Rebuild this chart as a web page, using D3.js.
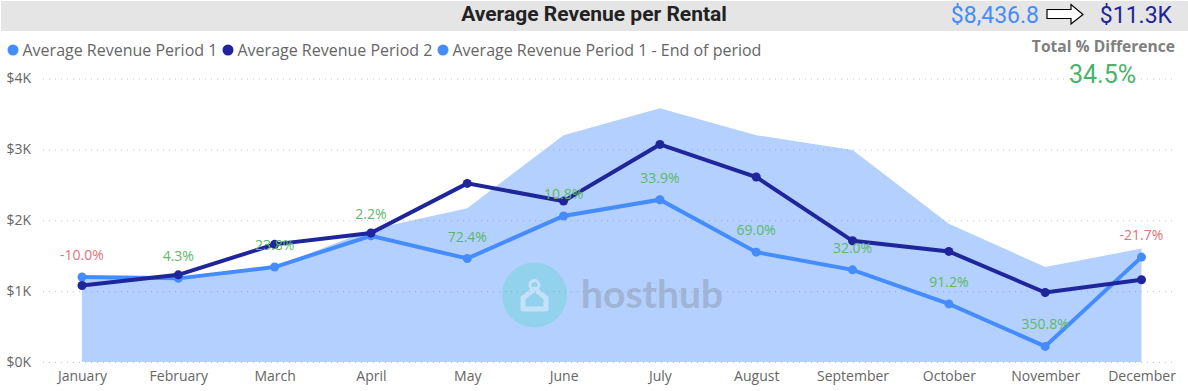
<!DOCTYPE html>
<html>
<head>
<meta charset="utf-8">
<script src="https://cdn.jsdelivr.net/npm/d3@7"></script>
<style>
  html, body { margin: 0; padding: 0; background: #fff; }
  svg { display: block; }
  text { font-family: "Open Sans", "Noto Sans", sans-serif; }
  .din { font-family: Roboto, sans-serif; }
</style>
</head>
<body>
<svg id="chart" width="1188" height="391"></svg>
<script>
const months = ['January', 'February', 'March', 'April', 'May', 'June', 'July', 'August', 'September', 'October', 'November', 'December']
const period1 = [1.2, 1.18, 1.34, 1.78, 1.46, 2.06, 2.29, 1.55, 1.3, 0.82, 0.22, 1.48]
const period2 = [1.08, 1.23, 1.66, 1.82, 2.52, 2.27, 3.07, 2.61, 1.71, 1.56, 0.98, 1.16]
const endOfPeriod = [1.2, 1.18, 1.34, 1.87, 2.17, 3.2, 3.58, 3.2, 2.99, 1.95, 1.34, 1.6]
const diffLabels = ['-10.0%', '4.3%', '23.8%', '2.2%', '72.4%', '10.8%', '33.9%', '69.0%', '32.0%', '91.2%', '350.8%', '-21.7%']
const yTicks = [0, 1, 2, 3, 4]
const legendNames = ['Average Revenue Period 1', 'Average Revenue Period 2', 'Average Revenue Period 1 - End of period']
const legendColors = ['#448CFF', '#1F259A', '#448CFF']
const legendX = [13, 228, 443]

const svg = d3.select('#chart')
const scaleX = d3.scalePoint().domain(months).range([82, 1141.5])
const scaleY = d3.scaleLinear().domain([0, 4]).range([362, 78.5])

// header band
svg.append('rect').attr('x', 1).attr('y', 1).attr('width', 1187).attr('height', 30).attr('fill', '#e5e5e5')
svg.append('text').attr('class', 'din').attr('x', 594).attr('y', 21).attr('text-anchor', 'middle')
    .attr('font-size', 21).attr('font-weight', 700).attr('fill', '#222').text('Average Revenue per Rental')
svg.append('text').attr('class', 'din').attr('x', 1039).attr('y', 23).attr('text-anchor', 'end')
    .attr('font-size', 23).attr('fill', '#448CFF').text('$8,436.8')
svg.append('text').attr('class', 'din').attr('x', 1172).attr('y', 23).attr('text-anchor', 'end')
    .attr('font-size', 23).attr('fill', '#1F259A').text('$11.3K')
svg.append('path').attr('d', 'M1047 9.5H1071V4.5L1083 14.5L1071 24V18.5H1047Z')
    .attr('fill', '#fff').attr('stroke', '#000').attr('stroke-width', 1.2)

// legend
legendNames.forEach((name, i) => {
    svg.append('circle').attr('cx', legendX[i]).attr('cy', 50).attr('r', 5.5).attr('fill', legendColors[i])
    svg.append('text').attr('x', legendX[i] + 9.5).attr('y', 56).attr('font-size', 16).attr('fill', '#666').text(name)
})

// area goes under the watermark and gridlines
svg.append('path')
    .datum(endOfPeriod.map((v, i) => [months[i], v]))
    .attr('fill', '#B3D0FF')
    .attr('d', d3.area().x(d => scaleX(d[0])).y0(scaleY(0)).y1(d => scaleY(d[1])))

// watermark
svg.append('circle').attr('cx', 534.5).attr('cy', 295).attr('r', 32.5).attr('fill', '#92D2EC')
svg.append('circle').attr('cx', 534.5).attr('cy', 285).attr('r', 4.5).attr('fill', 'none').attr('stroke', '#C5E0F9').attr('stroke-width', 3)
svg.append('path').attr('d', 'M523 309V298L534.5 289L546 298V309Z')
    .attr('fill', 'none').attr('stroke', '#C5E0F9').attr('stroke-width', 5).attr('stroke-linejoin', 'round')
svg.append('text').attr('x', 581).attr('y', 308).attr('font-size', 39).attr('font-weight', 700)
    .style('font-family', 'Lato, sans-serif').attr('fill', '#A0B4D6').text('hosthub')

// y axis
const axisY = d3.axisLeft(scaleY).tickValues(yTicks).tickFormat(d => `$${d}K`).tickSize(-1134).tickPadding(12)
const gy = svg.append('g').attr('transform', 'translate(43,0)').call(axisY)
gy.select('.domain').remove()
gy.selectAll('line').attr('stroke', '#888').attr('stroke-opacity', 0.5).attr('stroke-dasharray', '1 5')
gy.selectAll('text').attr('font-size', 14).attr('fill', '#666')

// x axis
const axisX = d3.axisBottom(scaleX).tickSize(0).tickPadding(0)
const gx = svg.append('g').attr('transform', 'translate(0,371)').call(axisX)
gx.select('.domain').remove()
gx.selectAll('text').attr('font-size', 14).attr('fill', '#666')

// lines and points
const line = d3.line().x(d => scaleX(d[0])).y(d => scaleY(d[1]))
const seriesList = [[period1, '#448CFF'], [period2, '#1F259A']]
seriesList.forEach(([values, color]) => {
    const rows = values.map((v, i) => [months[i], v])
    svg.append('path').datum(rows).attr('fill', 'none').attr('stroke', color).attr('stroke-width', 4).attr('d', line)
    svg.append('g').selectAll('circle').data(rows).join('circle')
        .attr('r', 4.5).attr('fill', color)
        .attr('cx', d => scaleX(d[0])).attr('cy', d => scaleY(d[1]))
})

// percent labels hang off the period 1 line
svg.append('g').selectAll('text').data(diffLabels).join('text')
    .attr('x', (d, i) => scaleX(months[i]))
    .attr('y', (d, i) => scaleY(period1[i]) - 17)
    .attr('text-anchor', 'middle').attr('font-size', 14)
    .attr('fill', d => d.startsWith('-') ? '#E2707C' : '#5DB868')
    .text(d => d)

// total difference card
svg.append('text').attr('x', 1175).attr('y', 52).attr('text-anchor', 'end').attr('font-size', 15.6)
    .attr('font-weight', 700).attr('fill', '#808080').text('Total % Difference')
svg.append('text').attr('class', 'din').attr('x', 1102.5).attr('y', 83).attr('text-anchor', 'middle')
    .attr('font-size', 25).attr('fill', '#49B36B').text('34.5%')
</script>
</body>
</html>
